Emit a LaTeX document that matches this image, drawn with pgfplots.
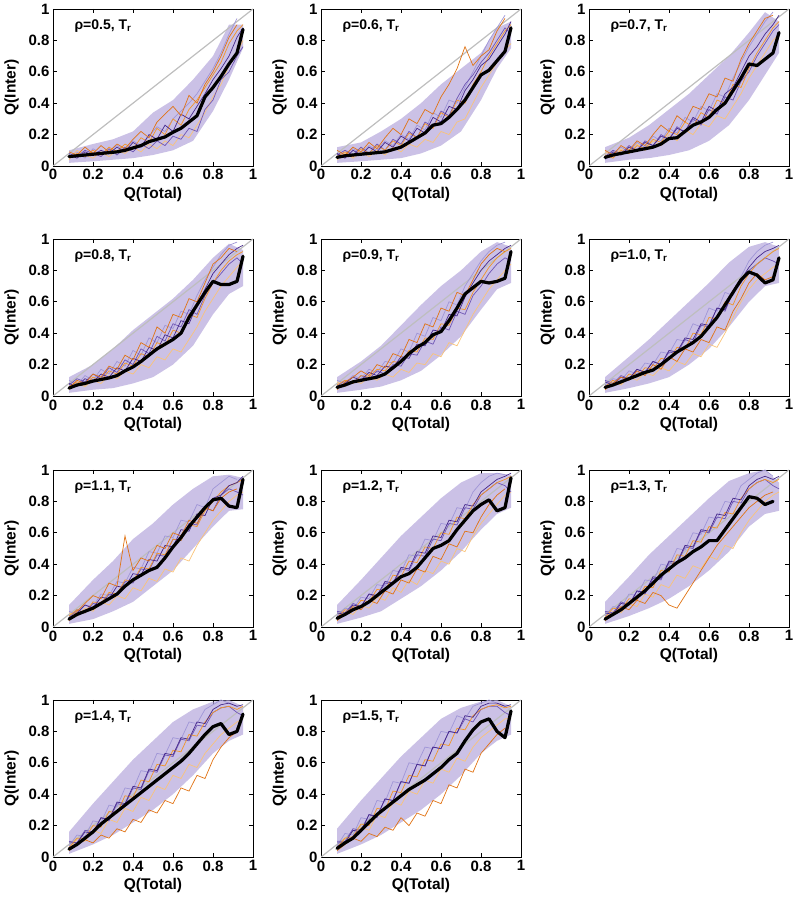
\documentclass[border=0pt]{standalone}
\usepackage{fontspec}
\setmainfont{Liberation Sans}
\usepackage{pgfplots}
\usepackage{pgfplotstable}
\pgfplotsset{compat=1.18}

\definecolor{orc}{RGB}{242,150,40}
\definecolor{dorc}{RGB}{225,115,20}
\definecolor{lorc}{RGB}{250,195,120}
\definecolor{dpurc}{RGB}{70,40,140}
\definecolor{purc}{RGB}{110,85,180}
\definecolor{lavc}{RGB}{160,150,215}
\definecolor{bandc}{RGB}{178,164,218}
\definecolor{diagc}{RGB}{190,190,190}

% ---------- panel data: x, mean, six trajectories; envelope polygons ----------
\pgfplotstableread{
x m t1 t2 t3 t4 t5 t6
.08 .06 .05 .07 .04 .08 .06 .09
.12 .065 .08 .05 .10 .06 .09 .07
.16 .07 .06 .09 .07 .10 .05 .12
.20 .075 .10 .07 .05 .08 .11 .08
.24 .08 .07 .10 .09 .06 .08 .13
.28 .085 .12 .08 .06 .11 .10 .09
.32 .09 .09 .12 .10 .07 .13 .14
.36 .10 .14 .09 .08 .12 .10 .11
.40 .115 .11 .15 .12 .09 .16 .17
.44 .13 .18 .12 .09 .14 .13 .22
.48 .155 .15 .20 .14 .11 .19 .18
.52 .17 .24 .17 .11 .16 .25 .28
.56 .185 .20 .26 .16 .13 .22 .33
.60 .215 .30 .22 .13 .19 .30 .38
.64 .24 .26 .33 .20 .17 .35 .32
.68 .28 .36 .30 .18 .24 .40 .45
.72 .32 .42 .38 .26 .22 .46 .40
.76 .44 .50 .46 .34 .36 .54 .52
.80 .50 .58 .55 .44 .42 .62 .60
.84 .57 .66 .62 .52 .55 .72 .70
.88 .65 .78 .70 .64 .60 .84 .82
.92 .72 .86 .82 .72 .70 .94 .90
.95 .87 .90 .88 .80 .76 nan nan
}\dA
\pgfplotstableread{
x y
.08 .10
.20 .14
.30 .17
.40 .22
.50 .34
.60 .42
.70 .55
.80 .70
.88 .90
.95 .90
.95 .75
.88 .55
.80 .35
.70 .16
.60 .10
.50 .07
.40 .05
.30 .04
.20 .03
.08 .02
}\eA

\pgfplotstableread{
x m t1 t2 t3 t4 t5 t6
.08 .055 .06 .08 .04 .07 .05 .10
.12 .065 .09 .05 .08 .10 .07 .07
.16 .07 .06 .10 .05 .07 .11 .12
.20 .075 .11 .07 .09 .12 .08 .09
.24 .08 .08 .12 .06 .08 .13 .15
.28 .085 .13 .09 .10 .14 .10 .11
.32 .09 .10 .15 .07 .10 .16 .18
.36 .105 .16 .12 .12 .17 .13 .24
.40 .12 .13 .19 .09 .14 .20 .20
.44 .15 .21 .16 .14 .22 .17 .30
.48 .18 .18 .24 .12 .18 .26 .27
.52 .21 .27 .21 .17 .28 .23 .36
.56 .26 .24 .31 .15 .25 .34 .33
.60 .27 .34 .28 .22 .35 .31 .44
.64 .31 .31 .38 .20 .32 .42 .52
.68 .36 .42 .36 .28 .43 .40 .62
.72 .42 .40 .48 .30 .52 .50 .76
.76 .50 .52 .55 .40 .58 .60 .64
.80 .58 .60 .64 .50 .66 .70 .70
.84 .61 .70 .68 .58 .72 .80 .74
.88 .67 .78 .76 .66 .80 .88 .86
.92 .73 .86 .84 .74 .88 .96 .94
.95 .88 .90 .92 .78 .84 nan nan
}\dB
\pgfplotstableread{
x y
.08 .12
.20 .15
.30 .22
.40 .30
.50 .40
.60 .52
.70 .62
.80 .72
.88 .88
.95 .92
.95 .75
.88 .62
.80 .42
.70 .22
.60 .13
.50 .08
.40 .05
.30 .04
.20 .03
.08 .02
}\eB

\pgfplotstableread{
x m t1 t2 t3 t4 t5 t6
.08 .055 .07 .05 .09 .06 .04 .10
.12 .07 .05 .09 .06 .10 .08 .07
.16 .08 .10 .07 .11 .08 .12 .13
.20 .09 .08 .12 .08 .13 .09 .10
.24 .10 .13 .10 .14 .10 .15 .16
.28 .11 .11 .15 .10 .16 .12 .13
.32 .12 .17 .13 .16 .13 .19 .20
.36 .14 .15 .19 .13 .20 .16 .26
.40 .175 .22 .17 .20 .17 .24 .22
.44 .18 .20 .24 .16 .25 .21 .32
.48 .22 .28 .22 .23 .21 .31 .28
.52 .26 .25 .31 .20 .30 .28 .38
.56 .28 .34 .28 .27 .26 .38 .36
.60 .31 .31 .38 .25 .36 .35 .46
.64 .36 .42 .35 .32 .33 .46 .44
.68 .40 .40 .46 .30 .44 .44 .56
.72 .48 .52 .50 .38 .42 .56 .54
.76 .56 .50 .60 .46 .54 .66 .68
.80 .65 .62 .70 .56 .60 .76 .78
.84 .64 .72 .76 .64 .70 .84 .86
.88 .68 .80 .84 .72 .78 .92 .94
.92 .72 .88 .90 .80 .86 .98 .96
.95 .85 .92 .96 .84 .90 nan nan
}\dC
\pgfplotstableread{
x y
.08 .12
.20 .18
.30 .26
.40 .36
.50 .46
.60 .58
.70 .70
.80 .85
.88 .98
.95 .92
.95 .72
.88 .58
.80 .42
.70 .26
.60 .16
.50 .10
.40 .07
.30 .05
.20 .04
.08 .02
}\eC

\pgfplotstableread{
x m t1 t2 t3 t4 t5 t6
.08 .05 .06 .08 .04 .07 .10 .05
.12 .07 .09 .06 .08 .11 .07 .10
.16 .08 .07 .11 .06 .09 .13 .08
.20 .095 .12 .09 .10 .14 .10 .14
.24 .105 .10 .14 .08 .11 .17 .12
.28 .115 .16 .12 .13 .18 .14 .19
.32 .13 .14 .18 .11 .15 .22 .17
.36 .16 .21 .16 .16 .23 .19 .26
.40 .185 .19 .24 .14 .20 .29 .23
.44 .22 .27 .22 .20 .30 .26 .34
.48 .26 .25 .31 .18 .27 .37 .31
.52 .30 .34 .29 .25 .38 .34 .44
.56 .33 .32 .39 .23 .35 .45 .40
.60 .36 .42 .37 .30 .46 .43 .52
.64 .40 .40 .48 .28 .44 .54 .50
.68 .50 .52 .46 .36 .55 .52 .62
.72 .58 .50 .58 .44 .52 .64 .60
.76 .66 .62 .68 .54 .64 .74 .72
.80 .73 .72 .78 .62 .72 .82 .84
.84 .71 .80 .84 .70 .78 .90 .88
.88 .71 .86 .90 .76 .84 .96 .94
.92 .73 .90 .94 .82 .88 .98 .92
.95 .89 .92 .96 .86 .84 nan nan
}\dD
\pgfplotstableread{
x y
.08 .12
.20 .20
.30 .30
.40 .42
.50 .52
.60 .62
.70 .74
.80 .88
.88 .97
.95 .93
.95 .70
.88 .65
.80 .52
.70 .32
.60 .20
.50 .12
.40 .08
.30 .05
.20 .04
.08 .02
}\eD

\pgfplotstableread{
x m t1 t2 t3 t4 t5 t6
.08 .055 .07 .05 .09 .06 .10 .04
.12 .07 .10 .08 .06 .10 .08 .09
.16 .09 .08 .12 .10 .08 .13 .12
.20 .10 .13 .10 .08 .13 .11 .16
.24 .11 .12 .15 .12 .11 .17 .13
.28 .12 .17 .13 .10 .16 .15 .20
.32 .14 .16 .19 .14 .14 .22 .18
.36 .18 .22 .18 .12 .20 .21 .27
.40 .22 .21 .25 .17 .19 .30 .25
.44 .27 .29 .24 .15 .27 .28 .36
.48 .31 .28 .33 .21 .26 .40 .34
.52 .34 .37 .32 .20 .35 .38 .46
.56 .39 .36 .42 .27 .33 .50 .44
.60 .41 .46 .41 .25 .44 .48 .56
.64 .48 .45 .52 .34 .42 .60 .54
.68 .56 .56 .51 .32 .54 .58 .66
.72 .65 .55 .63 .42 .52 .70 .64
.76 .69 .66 .72 .52 .64 .78 .74
.80 .73 .74 .80 .60 .70 .86 .84
.84 .72 .82 .86 .68 .78 .92 .90
.88 .73 .88 .90 .74 .84 .96 .94
.92 .75 .92 .94 .80 .88 .98 .92
.95 .92 .94 .96 .84 .86 nan nan
}\dE
\pgfplotstableread{
x y
.08 .12
.20 .22
.30 .32
.40 .45
.50 .58
.60 .70
.70 .80
.80 .92
.88 .98
.95 .95
.95 .72
.88 .68
.80 .55
.70 .38
.60 .26
.50 .16
.40 .10
.30 .06
.20 .04
.08 .02
}\eE

\pgfplotstableread{
x m t1 t2 t3 t4 t5 t6
.08 .055 .06 .09 .05 .10 .07 .04
.12 .07 .10 .07 .09 .08 .11 .08
.16 .09 .08 .12 .07 .13 .10 .12
.20 .11 .14 .11 .12 .11 .16 .10
.24 .13 .12 .17 .10 .17 .14 .16
.28 .15 .18 .15 .15 .15 .21 .13
.32 .165 .17 .22 .13 .22 .20 .20
.36 .20 .24 .20 .18 .20 .28 .17
.40 .24 .23 .29 .16 .28 .27 .25
.44 .28 .31 .28 .22 .27 .36 .22
.48 .31 .30 .37 .20 .36 .35 .30
.52 .34 .40 .36 .27 .34 .46 .28
.56 .38 .39 .46 .25 .45 .44 .36
.60 .44 .50 .45 .33 .44 .56 .34
.64 .50 .49 .56 .31 .56 .54 .44
.68 .58 .60 .55 .40 .54 .66 .42
.72 .66 .58 .66 .50 .66 .64 .54
.76 .74 .70 .74 .60 .72 .76 .62
.80 .79 .78 .82 .68 .80 .86 .72
.84 .77 .84 .88 .74 .84 .92 .78
.88 .72 .88 .92 .78 .88 .96 .74
.92 .74 .92 .94 .82 .86 .98 .76
.95 .88 .94 .96 .84 .84 nan nan
}\dF
\pgfplotstableread{
x y
.08 .12
.20 .25
.30 .36
.40 .48
.50 .60
.60 .72
.70 .85
.80 .95
.88 .98
.95 .95
.95 .72
.88 .70
.80 .60
.70 .44
.60 .30
.50 .20
.40 .12
.30 .08
.20 .05
.08 .02
}\eF

\pgfplotstableread{
x m t1 t2 t3 t4 t5 t6
.08 .05 .07 .05 .09 .06 .10 .04
.12 .08 .11 .09 .07 .11 .08 .10
.16 .10 .09 .14 .12 .09 .14 .15
.20 .12 .16 .12 .10 .15 .13 .20
.24 .15 .15 .19 .16 .14 .21 .18
.28 .18 .22 .18 .14 .21 .20 .28
.32 .21 .21 .26 .20 .20 .29 .26
.36 .26 .30 .25 .18 .29 .28 .58
.40 .30 .29 .34 .25 .28 .38 .36
.44 .33 .38 .33 .23 .37 .37 .44
.48 .36 .37 .43 .31 .36 .48 .42
.52 .38 .47 .42 .29 .46 .47 .52
.56 .44 .46 .52 .37 .45 .58 .50
.60 .51 .56 .51 .35 .56 .57 .60
.64 .57 .55 .62 .44 .55 .68 .58
.68 .64 .65 .61 .42 .66 .67 .68
.72 .70 .64 .72 .52 .65 .78 .66
.76 .76 .74 .71 .60 .76 .76 .76
.80 .81 .80 .82 .68 .74 .88 .74
.84 .82 .86 .84 .74 .84 .92 .82
.88 .77 .90 .90 .80 .88 .96 .86
.92 .76 .92 .92 .84 .86 .94 .88
.95 .94 .94 .96 .86 .84 nan nan
}\dG
\pgfplotstableread{
x y
.08 .14
.20 .30
.30 .42
.40 .56
.50 .66
.60 .78
.70 .88
.80 .96
.88 .97
.95 .95
.95 .75
.88 .74
.80 .64
.70 .50
.60 .36
.50 .26
.40 .16
.30 .10
.20 .05
.08 .02
}\eG

\pgfplotstableread{
x m t1 t2 t3 t4 t5 t6
.08 .055 .06 .09 .05 .10 .07 .04
.12 .08 .11 .08 .10 .09 .12 .08
.16 .11 .10 .14 .08 .15 .11 .13
.20 .13 .17 .13 .14 .13 .19 .11
.24 .16 .16 .21 .12 .21 .18 .17
.28 .20 .24 .20 .19 .19 .27 .15
.32 .24 .23 .29 .17 .28 .26 .23
.36 .28 .33 .28 .25 .27 .36 .21
.40 .32 .32 .38 .22 .37 .35 .30
.44 .34 .42 .37 .30 .36 .46 .28
.48 .38 .41 .48 .27 .46 .45 .37
.52 .44 .51 .47 .36 .45 .56 .35
.56 .50 .50 .58 .34 .56 .55 .45
.60 .52 .60 .57 .42 .55 .66 .43
.64 .55 .59 .68 .40 .66 .65 .53
.68 .62 .70 .67 .50 .65 .76 .51
.72 .68 .69 .78 .48 .76 .75 .61
.76 .74 .78 .77 .58 .75 .86 .60
.80 .78 .84 .86 .66 .84 .92 .70
.84 .81 .88 .90 .72 .88 .96 .78
.88 .74 .92 .94 .78 .92 .98 .84
.92 .76 .94 .96 .84 .90 .97 .88
.95 .95 .96 .98 .86 .86 nan nan
}\dH
\pgfplotstableread{
x y
.08 .14
.20 .30
.30 .44
.40 .58
.50 .70
.60 .82
.70 .92
.80 .98
.88 .98
.95 .97
.95 .76
.88 .72
.80 .62
.70 .48
.60 .36
.50 .26
.40 .18
.30 .10
.20 .06
.08 .02
}\eH

\pgfplotstableread{
x m t1 t2 t3 t4 t5 t6
.08 .05 .06 .09 .05 .10 .07 .04
.12 .08 .12 .08 .10 .09 .13 .08
.16 .11 .11 .15 .09 .16 .12 .13
.20 .15 .18 .14 .15 .14 .21 .11
.24 .19 .17 .23 .13 .23 .20 .17
.28 .23 .26 .22 .21 .21 .30 .15
.32 .28 .25 .32 .19 .31 .29 .22
.36 .33 .36 .31 .27 .30 .40 .20
.40 .37 .35 .42 .25 .41 .39 .14
.44 .41 .46 .41 .33 .40 .50 .12
.48 .44 .45 .52 .31 .51 .49 .20
.52 .48 .55 .51 .39 .50 .60 .28
.56 .51 .54 .62 .37 .61 .59 .36
.60 .55 .64 .61 .45 .60 .70 .44
.64 .55 .63 .72 .43 .70 .69 .52
.68 .62 .73 .71 .52 .69 .80 .58
.72 .69 .72 .82 .50 .80 .79 .64
.76 .76 .82 .81 .60 .79 .90 .70
.80 .83 .88 .90 .68 .88 .94 .76
.84 .82 .92 .94 .74 .92 .98 .80
.88 .78 .94 .96 .80 .94 1.00 .84
.92 .80 .92 .94 .84 .90 .96 .86
.95 nan .94 .96 .86 .88 nan nan
}\dI
\pgfplotstableread{
x y
.08 .16
.20 .32
.30 .46
.40 .58
.50 .70
.60 .82
.70 .93
.80 .98
.88 1.00
.95 .92
.95 .74
.88 .72
.80 .64
.70 .48
.60 .36
.50 .26
.40 .18
.30 .12
.20 .07
.08 .02
}\eI

\pgfplotstableread{
x m t1 t2 t3 t4 t5 t6
.08 .05 .06 .09 .05 .10 .07 .04
.12 .08 .12 .09 .11 .09 .14 .08
.16 .12 .12 .16 .10 .17 .13 .11
.20 .16 .20 .15 .17 .16 .23 .09
.24 .21 .19 .25 .15 .25 .22 .14
.28 .25 .29 .24 .24 .23 .33 .12
.32 .29 .28 .35 .22 .34 .32 .18
.36 .33 .39 .34 .31 .33 .44 .16
.40 .37 .38 .45 .29 .44 .43 .24
.44 .41 .49 .44 .38 .43 .55 .22
.48 .45 .48 .56 .36 .55 .54 .30
.52 .49 .59 .55 .45 .54 .66 .28
.56 .53 .58 .66 .43 .65 .65 .36
.60 .57 .68 .65 .52 .64 .76 .34
.64 .61 .67 .76 .50 .75 .75 .44
.68 .66 .78 .75 .59 .74 .86 .42
.72 .72 .77 .86 .57 .84 .85 .52
.76 .78 .86 .85 .66 .83 .94 .50
.80 .83 .92 .94 .72 .92 .97 .62
.84 .85 .95 .97 .78 .95 1.00 .70
.88 .78 .96 .98 .82 .96 .98 .76
.92 .80 .94 .96 .86 .92 .96 .80
.95 .91 .96 .97 .88 .90 nan nan
}\dJ
\pgfplotstableread{
x y
.08 .16
.20 .34
.30 .48
.40 .62
.50 .74
.60 .86
.70 .94
.80 .99
.88 1.00
.95 .96
.95 .78
.88 .74
.80 .66
.70 .52
.60 .40
.50 .30
.40 .22
.30 .14
.20 .08
.08 .02
}\eJ

\pgfplotstableread{
x m t1 t2 t3 t4 t5 t6
.08 .055 .06 .09 .05 .10 .07 .04
.12 .09 .12 .09 .12 .10 .15 .08
.16 .12 .13 .17 .11 .18 .14 .12
.20 .17 .21 .16 .19 .17 .25 .10
.24 .22 .20 .27 .17 .27 .24 .15
.28 .27 .31 .26 .27 .25 .36 .13
.32 .31 .30 .37 .25 .37 .35 .19
.36 .35 .42 .36 .35 .36 .48 .17
.40 .39 .41 .48 .33 .48 .47 .25
.44 .43 .52 .47 .42 .47 .60 .20
.48 .46 .51 .59 .40 .59 .59 .28
.52 .49 .62 .58 .49 .58 .70 .26
.56 .53 .61 .70 .47 .70 .69 .36
.60 .57 .72 .69 .56 .69 .80 .34
.64 .62 .71 .80 .54 .80 .79 .46
.68 .66 .82 .79 .63 .79 .90 .44
.72 .74 .81 .90 .61 .88 .88 .56
.76 .81 .90 .89 .70 .86 .96 .54
.80 .86 .94 .96 .76 .94 .98 .66
.84 .88 .96 .98 .80 .96 1.00 .72
.88 .80 .97 .98 .84 .96 .98 .78
.92 .76 .95 .96 .88 .92 .96 .82
.95 .93 .96 .97 .88 .90 nan nan
}\dK
\pgfplotstableread{
x y
.08 .18
.20 .36
.30 .50
.40 .64
.50 .76
.60 .88
.70 .95
.80 .99
.88 1.00
.95 .96
.95 .78
.88 .74
.80 .66
.70 .52
.60 .40
.50 .30
.40 .22
.30 .14
.20 .08
.08 .02
}\eK

\pgfplotsset{panel/.style={
  scale only axis, width=200pt, height=157pt,
  xmin=0, xmax=1, ymin=0, ymax=1,
  xtick={0,0.2,0.4,0.6,0.8,1}, ytick={0,0.2,0.4,0.6,0.8,1},
  /pgf/number format/assume math mode=true,
  ticklabel style={font=\fontsize{15}{15}\selectfont\bfseries},
  label style={font=\fontsize{15.5}{15.5}\selectfont\bfseries},
  ylabel style={yshift=3pt},
  xlabel={Q(Total)}, ylabel={Q(Inter)},
  axis line style={line width=0.9pt},
  tick style={black, line width=0.8pt},
  major tick length=4pt,
}}

\newcommand\panel[5]{%
\begin{axis}[panel, at={(#1pt,#2pt)}, anchor=south west]
\addplot[fill=bandc, fill opacity=0.68, draw=none] table[x=x,y=y]{#4};
\addplot[diagc, line width=1.2pt] coordinates {(0,0) (1,1)};
\addplot[lavc, line width=0.7pt] table[x=x,y=t5]{#3};
\addplot[lorc, line width=0.7pt] table[x=x,y=t3]{#3};
\addplot[purc, line width=0.7pt] table[x=x,y=t4]{#3};
\addplot[orc, line width=0.7pt] table[x=x,y=t1]{#3};
\addplot[dpurc, line width=0.7pt] table[x=x,y=t2]{#3};
\addplot[dorc, line width=0.7pt] table[x=x,y=t6]{#3};
\addplot[black, line width=3.2pt, line join=round, line cap=round] table[x=x,y=m]{#3};
\node[anchor=west, font=\fontsize{14}{14}\selectfont\bfseries] at (axis description cs:0.09,0.89) {#5};
\end{axis}}

\newcommand\labt[1]{ρ=#1, T\textsubscript{r}}

\begin{document}
\begin{tikzpicture}
\path[use as bounding box] (0,0) rectangle (800pt,900pt);
\panel{53}{734}{\dA}{\eA}{\labt{0.5}}
\panel{321}{734}{\dB}{\eB}{\labt{0.6}}
\panel{589}{734}{\dC}{\eC}{\labt{0.7}}
\panel{53}{504}{\dD}{\eD}{\labt{0.8}}
\panel{321}{504}{\dE}{\eE}{\labt{0.9}}
\panel{589}{504}{\dF}{\eF}{\labt{1.0}}
\panel{53}{273}{\dG}{\eG}{\labt{1.1}}
\panel{321}{273}{\dH}{\eH}{\labt{1.2}}
\panel{589}{273}{\dI}{\eI}{\labt{1.3}}
\panel{53}{43}{\dJ}{\eJ}{\labt{1.4}}
\panel{321}{43}{\dK}{\eK}{\labt{1.5}}
\end{tikzpicture}
\end{document}
